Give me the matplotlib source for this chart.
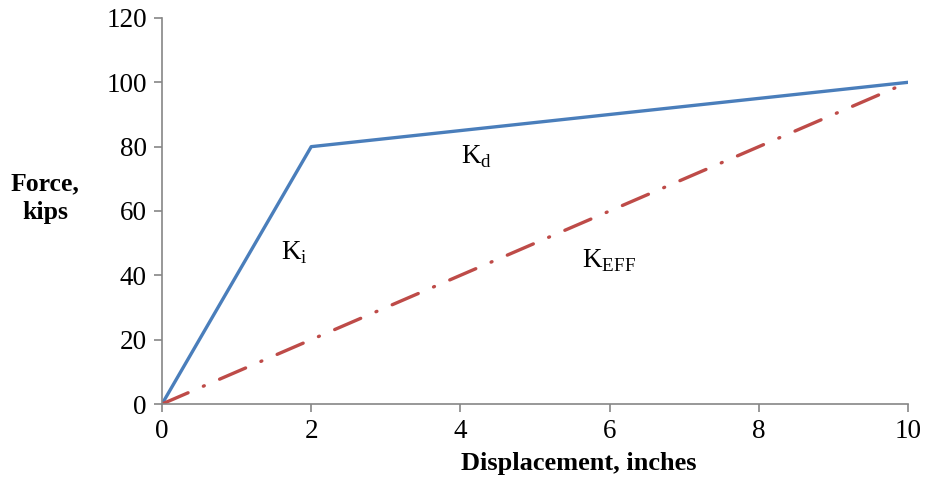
import matplotlib
matplotlib.use("Agg")
import matplotlib.pyplot as plt

# bilinear curve and effective stiffness line
disp_bilinear = [0, 2, 10]
force_bilinear = [0, 80, 100]
disp_eff = [0, 10]
force_eff = [0, 100]

x_ticks = [0, 2, 4, 6, 8, 10]
y_ticks = [0, 20, 40, 60, 80, 100, 120]

plt.rcParams['font.family'] = ['Liberation Serif', 'DejaVu Serif']
plt.rcParams['mathtext.fontset'] = 'custom'
plt.rcParams['mathtext.rm'] = 'Liberation Serif'

fig = plt.figure(figsize=(9.27, 4.9), dpi=100)
ax = fig.add_axes([0.1748, 0.1755, 0.8047, 0.7878])

ax.plot(disp_bilinear, force_bilinear, color='#4A7EBB', lw=2.4, solid_capstyle='round')
ax.plot(disp_eff, force_eff, color='#BE4B48', lw=2.4,
        dashes=(8.5, 5, 0.3, 5), dash_capstyle='round')

ax.set_xlim(0, 10)
ax.set_ylim(0, 120)
ax.set_xticks(x_ticks)
ax.set_yticks(y_ticks)
ax.tick_params(labelsize=19.5, color='#868686', length=6, width=1.2, pad=5)
for side in ['top', 'right']:
    ax.spines[side].set_visible(False)
for side in ['left', 'bottom']:
    ax.spines[side].set_color('#868686')
    ax.spines[side].set_linewidth(1.2)

# axis titles sit off-centre in the original
fig.text(0.6246, 0.055, 'Displacement, inches', fontsize=19, fontweight='bold',
         ha='center', va='center')
fig.text(0.049, 0.595, 'Force,\nkips', fontsize=18.5, fontweight='bold',
         ha='center', va='center', linespacing=1.3)

ax.text(1.77, 47, r'K$_{\mathrm{i}}$', fontsize=19.5, ha='center', va='center')
ax.text(4.22, 77, r'K$_{\mathrm{d}}$', fontsize=19.5, ha='center', va='center')
ax.text(5.99, 44.4, r'K$_{\mathrm{EFF}}$', fontsize=19.5, ha='center', va='center')

fig.savefig('out.png', dpi=100)
